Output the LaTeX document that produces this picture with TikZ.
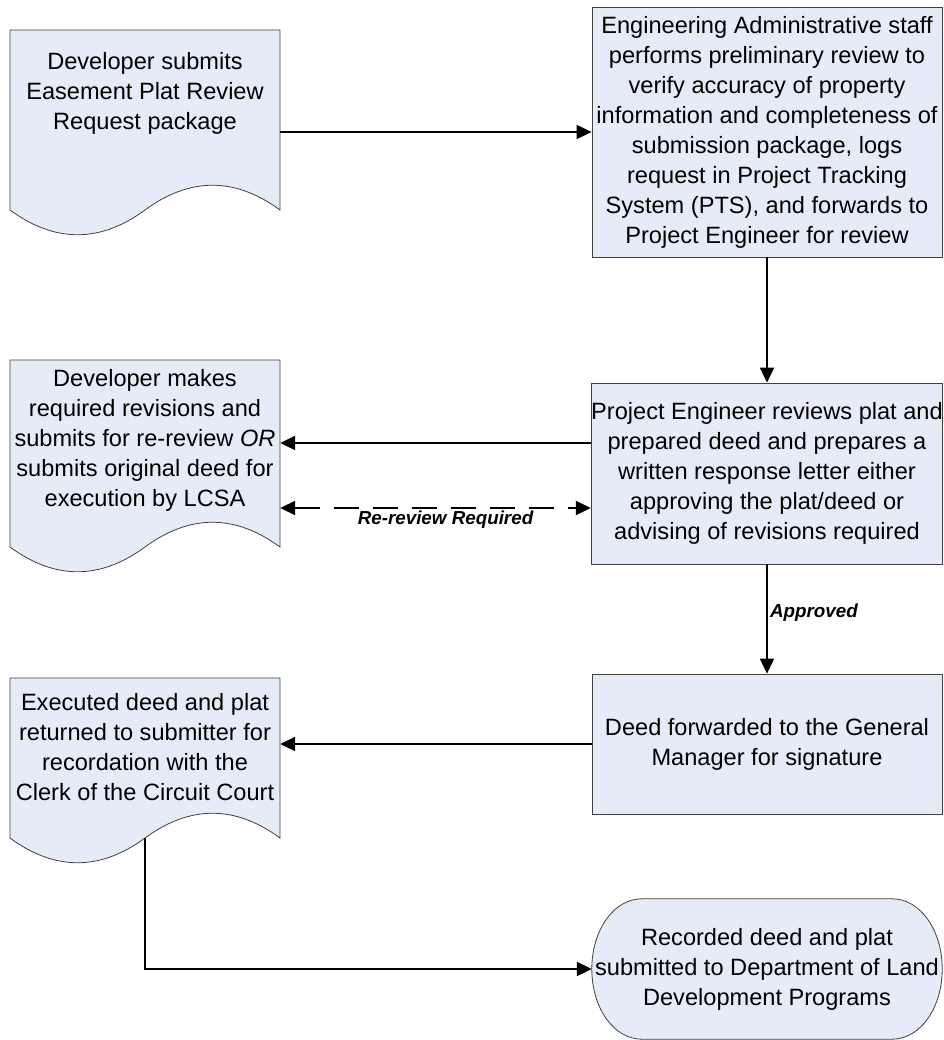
\documentclass[tikz,border=0pt]{standalone}
\usepackage{fontspec}
\setmainfont{Liberation Sans}
\usetikzlibrary{arrows.meta,calc,backgrounds}
\definecolor{boxfill}{RGB}{230,236,247}
\definecolor{edge}{RGB}{64,64,64}

% document symbol: top-left corner and height of the straight sides
\newcommand{\docshape}[2]{%
  \path[shapefill,shift={#1}] (0,0) -- (270,0) -- (270,#2)
    .. controls (225,#2-33) and (180,#2-33) .. (135,#2)
    .. controls (90,#2+33) and (45,#2+33) .. (0,#2) -- cycle;}
% terminator drawn round a node
\newcommand{\termshape}[1]{%
  \path[shapefill] ($(#1.north west)+(50,0)$) -- ($(#1.north east)+(-50,0)$)
    .. controls ($(#1.north east)+(-22,0)$) and ($(#1.east)+(0,-39)$) .. (#1.east)
    .. controls ($(#1.east)+(0,39)$) and ($(#1.south east)+(-22,0)$) .. ($(#1.south east)+(-50,0)$)
    -- ($(#1.south west)+(50,0)$)
    .. controls ($(#1.south west)+(22,0)$) and ($(#1.west)+(0,39)$) .. (#1.west)
    .. controls ($(#1.west)+(0,-39)$) and ($(#1.north west)+(22,0)$) .. ($(#1.north west)+(50,0)$)
    -- cycle;}

\begin{document}
\begin{tikzpicture}[x=1pt,y=-1pt,
  font=\fontsize{23.6}{30}\selectfont,
  shapefill/.style={draw=edge,fill=boxfill,line width=0.8pt},
  box/.style={shapefill,align=center,minimum width=350pt,inner sep=0pt},
  doc/.style={align=center,minimum width=270pt,inner sep=0pt},
  ar/.style={-{Triangle[length=15pt,width=14pt]},line width=2pt},
  darr/.style={{Triangle[length=15pt,width=14pt]}-{Triangle[length=15pt,width=14pt]},
               line width=2pt,dash pattern=on 25pt off 14pt},
  lbl/.style={font=\fontsize{18.8}{21}\selectfont\bfseries\itshape,inner sep=2pt},
]
\useasboundingbox (0,0) rectangle (943,1040);

\node[doc] (sub) at (145,93) {Developer submits\\Easement Plat Review\\Request package};
\node[box,minimum height=250pt] (eng) at (767,132) {Engineering Administrative staff\\
  performs preliminary review to\\verify accuracy of property\\
  information and completeness of\\submission package, logs\\
  request in Project Tracking\\System (PTS), and forwards to\\
  Project Engineer for review};
\node[doc] (dev) at (145,440) {Developer makes\\required revisions and\\
  submits for re-review \emph{OR}\\submits original deed for\\execution by LCSA};
\node[box,minimum height=181pt] (rev) at (767,473.5) {Project Engineer reviews plat and\\
  prepared deed and prepares a\\written response letter either\\
  approving the plat/deed or\\advising of revisions required};
\node[box,minimum height=140pt] (gm) at (767,744) {Deed forwarded to the General\\Manager for signature};
\node[doc] (exec) at (145,747) {Executed deed and plat\\returned to submitter for\\
  recordation with the\\Clerk of the Circuit Court};
\node[align=center,minimum width=350pt,minimum height=140pt,inner sep=0pt] (rec) at (767,969)
  {Recorded deed and plat\\submitted to Department of Land\\Development Programs};

\begin{scope}[on background layer]
\docshape{(10,30)}{180}
\docshape{(10,360)}{187}
\docshape{(10,678)}{160}
\termshape{rec}
\end{scope}

\coordinate (revout) at ([yshift=30.5pt]rev.west);
\coordinate (revin) at ([yshift=-34.5pt]rev.west);
\coordinate (execout) at (145,838);

\draw[ar] (sub.east |- eng.west) -- (eng.west);
\draw[ar] (eng.south) -- (rev.north);
\draw[ar] (revout) -- (revout -| dev.east);
\draw[darr] (revin -| dev.east) -- node[lbl,below,xshift=10pt] {Re-review Required} (revin);
\draw[ar] (rev.south) -- node[lbl,right,pos=0.44] {Approved} (gm.north);
\draw[ar] (gm.west) -- (gm.west -| exec.east);
\draw[ar] (execout) |- (rec.west);
\end{tikzpicture}
\end{document}
